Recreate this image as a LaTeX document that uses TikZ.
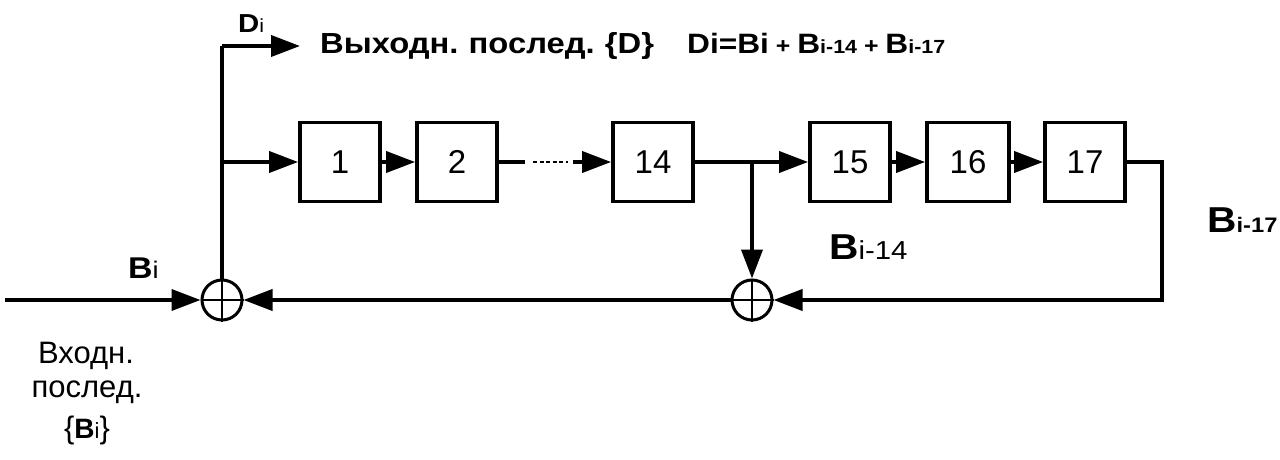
\documentclass[tikz,border=0pt]{standalone}
\usepackage{fontspec}
\setmainfont{Liberation Sans}
\newfontfamily\wfam[FakeStretch=1.13]{Liberation Sans}
\usetikzlibrary{arrows.meta}
\newcommand{\myfs}[1]{\fontsize{#1}{#1}\selectfont}
\tikzset{
  wire/.style={line width=3.8pt},
  arr/.style={wire,-{Triangle[length=29pt,width=21pt]}},
  reg/.style={draw,line width=3.8pt,minimum width=80pt,minimum height=79pt,inner sep=0pt,font=\myfs{33}},
  summ/.style={draw,circle,line width=3pt,minimum size=40pt,inner sep=0pt},
  lbl/.style={inner sep=0pt,anchor=base west,font=\wfam},
  clbl/.style={inner sep=0pt,anchor=base,font=\myfs{31}}
}
\begin{document}
\begin{tikzpicture}[x=1pt,y=-1pt]
\useasboundingbox (0,0) rectangle (1280,460);
% registers
\node[reg] (b1) at (340,162) {1};
\node[reg] (b2) at (457,162) {2};
\node[reg] (b14) at (653,162) {14};
\node[reg] (b15) at (850,162) {15};
\node[reg,minimum width=82pt] (b16) at (968,162) {16};
\node[reg] (b17) at (1085,162) {17};
% adders
\node[summ] (s1) at (222,300) {};
\node[summ] (s2) at (752,300) {};
\foreach \s in {s1,s2}{
  \draw[line width=2.5pt] (\s.north) -- (\s.south);
  \draw[line width=2.5pt] (\s.west) -- (\s.east);
}
% coordinates
\coordinate (in) at (5,300);
\coordinate (top) at (222,46);
\coordinate (outtip) at (300,46);
\coordinate (jL) at (222,162);
\coordinate (jR) at (752,162);
\coordinate (d1) at (525,162);
\coordinate (d2) at (533,162);
\coordinate (d3) at (568,162);
\coordinate (d4) at (573,162);
\coordinate (rc) at (1162,300);
% connectors
\draw[arr] (in) -- (s1.west);
\draw[wire] (s1.north) -- (top);
\draw[arr] (top) -- (outtip);
\draw[arr] (jL) -- (b1.west);
\draw[arr] (b1.east) -- (b2.west);
\draw[wire] (b2.east) -- (d1);
\draw[line width=1.8pt,dash pattern=on 4pt off 2.5pt] (d2) -- (d3);
\draw[arr] (d4) -- (b14.west);
\draw[arr] (b14.east) -- (b15.west);
\draw[arr] (jR) -- (s2.north);
\draw[arr] (b15.east) -- (b16.west);
\draw[arr] (b16.east) -- (b17.west);
\draw[arr] (b17.east) -| (rc) -- (s2.east);
\draw[arr] (s2.west) -- (s1.east);
% labels
\node[lbl] (lDi) at (238,33) {\myfs{26}\textbf{D}\myfs{19}i};
\node[lbl] (ltitle) at (320,54) {\myfs{29}\textbf{Выходн.\hspace{-2pt} послед.\hspace{-2pt} \{D\}}};
\node[lbl] (lform) at (687,54) {\bfseries\myfs{28}Di=Bi\myfs{22} + \myfs{28}B\myfs{19}i-14\myfs{22} + \myfs{28}B\myfs{19}i-17};
\node[lbl] (lB14) at (829,259) {\myfs{36}\textbf{B}\myfs{26}i-14};
\node[lbl] (lB17) at (1207,232) {\myfs{36}\textbf{B}\myfs{21}\textbf{i-17}};
\node[lbl] (lBi) at (128,278) {\myfs{30}\textbf{B}\myfs{24}i};
\node[clbl] (lin1) at (86,363) {Входн.};
\node[clbl] (lin2) at (87,397) {послед.};
\node[clbl] (lin3) at (87,438) {\{\myfs{28}\textbf{B}\myfs{22}i\myfs{31}\}};
\end{tikzpicture}
\end{document}
